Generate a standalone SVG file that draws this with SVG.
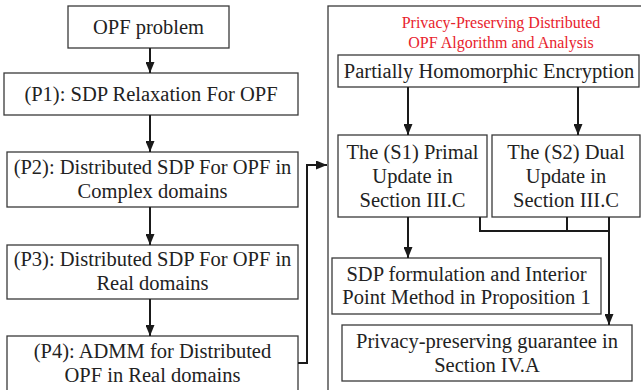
<svg xmlns="http://www.w3.org/2000/svg" width="641" height="390" viewBox="0 0 641 390">
<style>
.box{fill:#fff;stroke:#3a3a3a;stroke-width:1.3}
.t{font-family:"Liberation Serif","Times New Roman",serif;font-size:20.5px;fill:#222;text-anchor:middle}
.red{font-family:"Liberation Serif","Times New Roman",serif;font-size:16px;fill:#e8232d;text-anchor:middle}
.c{fill:none;stroke:#1a1a1a;stroke-width:2}
.ca{fill:none;stroke:#1a1a1a;stroke-width:2;marker-end:url(#ah)}
</style>
<defs>
<marker id="ah" viewBox="0 0 11 9" refX="11" refY="4.5" markerWidth="11" markerHeight="9" markerUnits="userSpaceOnUse" orient="auto">
<path d="M0,0 L11,4.5 L0,9 z" fill="#1a1a1a"/>
</marker>
</defs>
<rect width="641" height="390" fill="#fff"/>

<g id="container">
<rect class="box" x="328" y="6" width="330" height="400"/>
<text class="red" x="501" y="28">Privacy-Preserving Distributed</text>
<text class="red" x="501" y="48">OPF Algorithm and Analysis</text>
</g>

<g id="opf"><rect class="box" x="68" y="6" width="161" height="42"/><text class="t" x="148.5" y="34">OPF problem</text></g>
<g id="p1"><rect class="box" x="4" y="73" width="294" height="42"/><text class="t" x="151" y="101">(P1): SDP Relaxation For OPF</text></g>
<g id="p2"><rect class="box" x="7" y="152" width="291" height="55"/><text class="t" x="152.5" y="174">(P2): Distributed SDP For OPF in</text><text class="t" x="152.5" y="198">Complex domains</text></g>
<g id="p3"><rect class="box" x="7" y="245" width="291" height="54"/><text class="t" x="152.5" y="266">(P3): Distributed SDP For OPF in</text><text class="t" x="152.5" y="290">Real domains</text></g>
<g id="p4"><rect class="box" x="7" y="336" width="291" height="60"/><text class="t" x="152.5" y="358">(P4): ADMM for Distributed</text><text class="t" x="152.5" y="382">OPF in Real domains</text></g>

<g id="phe"><rect class="box" x="338" y="55" width="301" height="32"/><text class="t" x="489" y="78">Partially Homomorphic Encryption</text></g>
<g id="s1"><rect class="box" x="338" y="135" width="149" height="82"/><text class="t" x="412.5" y="159">The (S1) Primal</text><text class="t" x="412.5" y="183">Update in</text><text class="t" x="412.5" y="207">Section III.C</text></g>
<g id="s2"><rect class="box" x="492" y="135" width="148" height="82"/><text class="t" x="566" y="159">The (S2) Dual</text><text class="t" x="566" y="183">Update in</text><text class="t" x="566" y="207">Section III.C</text></g>
<g id="sdp"><rect class="box" x="332" y="258" width="269" height="56"/><text class="t" x="466.5" y="281">SDP formulation and Interior</text><text class="t" x="466.5" y="304">Point Method in Proposition 1</text></g>
<g id="priv"><rect class="box" x="342" y="325" width="290" height="56"/><text class="t" x="487" y="348">Privacy-preserving guarantee in</text><text class="t" x="487" y="372">Section IV.A</text></g>

<g id="connectors">
<line class="ca" x1="150" y1="48" x2="150" y2="73"/>
<line class="ca" x1="150" y1="115" x2="150" y2="152"/>
<line class="ca" x1="150" y1="207" x2="150" y2="245"/>
<line class="ca" x1="150" y1="299" x2="150" y2="336"/>
<polyline class="ca" points="298,363 307,363 307,165 327,165"/>
<line class="ca" x1="408" y1="87" x2="408" y2="135"/>
<line class="ca" x1="578" y1="87" x2="578" y2="135"/>
<line class="ca" x1="408" y1="217" x2="408" y2="258"/>
<polyline class="c" points="480,217 480,231 609,231"/>
<line class="c" x1="567" y1="217" x2="567" y2="231"/>
<line class="ca" x1="609" y1="217" x2="609" y2="325"/>
</g>
</svg>
